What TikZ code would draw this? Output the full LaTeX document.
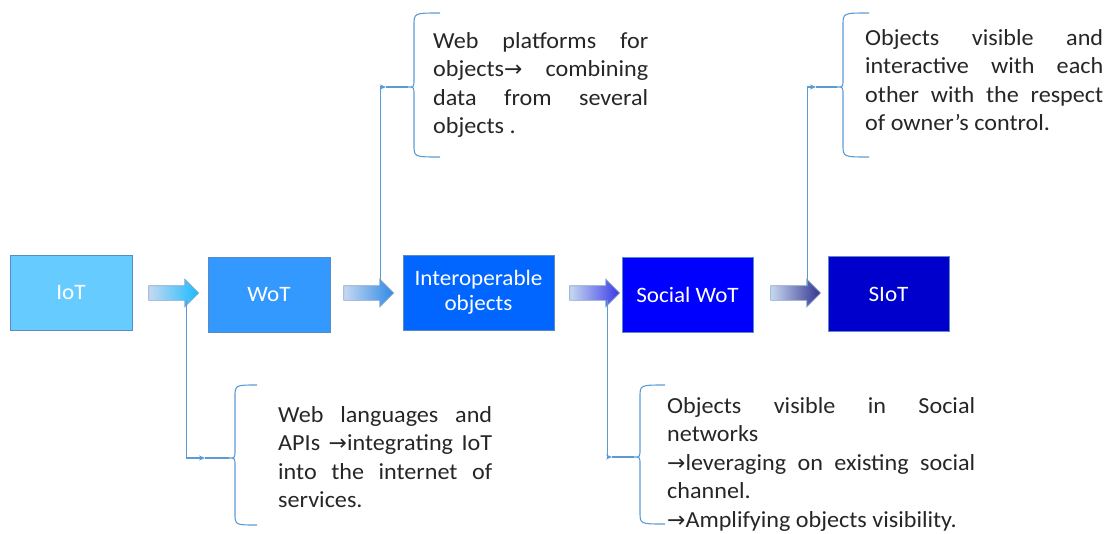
\documentclass[tikz,border=0pt]{standalone}
\usepackage{fontspec}
\setmainfont[FakeStretch=1.05]{Carlito}
\newfontfamily\symf[Scale=0.95]{DejaVu Sans}
\usetikzlibrary{shapes.arrows,arrows.meta,calc}
\newcommand{\rarr}{{\symf →}}
\definecolor{iotc}{HTML}{66CCFF}
\definecolor{wotc}{HTML}{3399FF}
\definecolor{intc}{HTML}{0066FF}
\definecolor{swotc}{HTML}{0000FF}
\definecolor{siotc}{HTML}{0000CC}
\definecolor{boxb}{HTML}{5B8BC5}
\definecolor{linkc}{HTML}{5B9BD5}
\definecolor{arrl}{HTML}{C6D9F1}
\definecolor{arrb}{HTML}{8AA6C8}
\tikzset{
  box/.style={draw=boxb, line width=0.8pt, text=white, minimum height=75pt,
    align=center, font=\fontsize{22}{25}\selectfont},
  blk/.style={single arrow, draw=arrb, line width=0.7pt, minimum height=50pt,
    inner xsep=0pt, inner ysep=7pt, single arrow head extend=6.5pt, left color=arrl},
  link/.style={draw=linkc, line width=1.1pt},
  note/.style={anchor=north west, inner sep=0pt, align=justify, text=black!85,
    font=\fontsize{23}{28.5}\selectfont}
}
\begin{document}
\begin{tikzpicture}[x=1pt, y=-1pt]
  \useasboundingbox (0,0) rectangle (1107,533);
  % Chain of stages
  \node[box, fill=iotc, minimum width=122pt] (iot) at (71,292.5) {IoT};
  \node[box, fill=wotc, minimum width=122pt] (wot) at (269,294.5) {WoT};
  \node[box, fill=intc, minimum width=151pt] (inter) at (478.5,292.5) {Interoperable\\objects};
  \node[box, fill=swotc, minimum width=131pt] (swot) at (687.5,294.5) {Social WoT};
  \node[box, fill=siotc, minimum width=121pt] (siot) at (888.5,294) {SIoT};
  % Block arrows between stages
  \node[blk, right color=cyan!70!blue!90] (a1) at (170,293) {};
  \node[blk, right color=wotc!90!black] (a2) at (365,293) {};
  \node[blk, right color=blue!75!white!90!black] (a3) at (591,293) {};
  \node[blk, right color=blue!45!black!80] (a4) at (792,293) {};
  % Descriptions
  \node[note, text width=214pt] (t1) at (278,402) {\strut Web languages and\linebreak
    APIs \rarr integrating IoT\linebreak into the internet of\linebreak services.};
  \node[note, text width=215pt] (t2) at (433,28) {\strut Web platforms for\linebreak
    objects\rarr\ combining\linebreak data from several\linebreak objects .};
  \node[note, text width=308pt] (t3) at (667,393) {\strut Objects visible in Social\linebreak
    networks\\ \rarr leveraging on existing social\linebreak channel.\\ \rarr Amplifying objects visibility.};
  \node[note, text width=238pt] (t4) at (865,25) {\strut Objects visible and\linebreak
    interactive with each\linebreak other with the respect\linebreak of owner’s control.};
  % Braces
  \foreach \n/\bx/\bt/\bb/\bm/\be in {1/235/385/525/458/257, 2/414/13/157/87/440,
      3/640/385/524/457/665, 4/843/13/157/87/869} {
    \coordinate (b\n) at ({\bx-6},\bm);
    \draw[link] (\be,\bt) .. controls (\bx,\bt) .. (\bx,{\bt+12}) -- (\bx,{\bm-8})
      .. controls (\bx,\bm) .. (b\n) .. controls (\bx,\bm) .. (\bx,{\bm+8})
      -- (\bx,{\bb-12}) .. controls (\bx,\bb) .. (\be,\bb);
  }
  % Links from arrows to braces
  \coordinate (m1) at (205,458);
  \coordinate (m2) at (386,87);
  \coordinate (m3) at (612,457);
  \coordinate (m4) at (816,87);
  \draw[link, -{Stealth[length=6pt,width=5pt]}] ($(a1.tip)+(-13,7)$) |- (m1);
  \draw[link, -{Stealth[length=6pt,width=5pt]}] ($(a2.tip)+(-14,-7)$) |- (m2);
  \draw[link, -{Stealth[length=6pt,width=5pt]}] ($(a3.tip)+(-13,7)$) |- (m3);
  \draw[link, -{Stealth[length=6pt,width=5pt]}] ($(a4.tip)+(-14,-7)$) |- (m4);
  \draw[link] (m1) -- (b1);
  \draw[link] (m2) -- (b2);
  \draw[link] (m3) -- (b3);
  \draw[link] (m4) -- (b4);
\end{tikzpicture}
\end{document}
